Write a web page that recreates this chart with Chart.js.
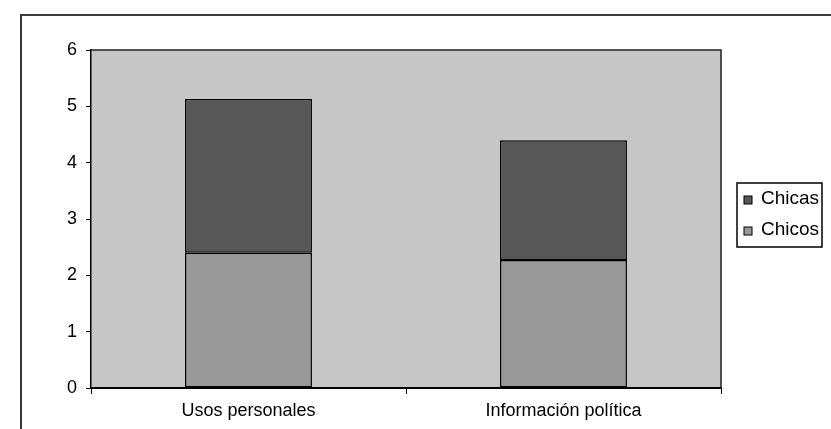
<!DOCTYPE html>
<html>
<head>
<meta charset="utf-8">
<script src="https://cdn.jsdelivr.net/npm/chart.js@4"></script>
<style>
  body { margin: 0; background: #fff; }
  canvas { display: block; }
</style>
</head>
<body>
<canvas id="chart" width="831" height="429"></canvas>
<script>
const categories = ['Usos personales', 'Información política'];
const chicosValues = [2.40, 2.27];
const chicasValues = [2.73, 2.13];
const seriesNames = ['Chicos', 'Chicas'];
const yMin = 0;
const yMax = 6;
const yStep = 1;

const FONT = "'Liberation Sans', Arial, sans-serif";

// white page, the scanned frame and the grey plot area
const backdrop = {
    id: 'backdrop',
    beforeDraw(chart) {
        const ctx = chart.ctx;
        const a = chart.chartArea;
        ctx.save();
        ctx.fillStyle = '#fff';
        ctx.fillRect(0, 0, chart.width, chart.height);
        ctx.strokeStyle = '#3a3a3a';
        ctx.lineWidth = 2;
        ctx.beginPath();
        ctx.moveTo(21, chart.height);
        ctx.lineTo(21, 15);
        ctx.lineTo(chart.width, 15);
        ctx.stroke();
        ctx.fillStyle = '#c6c6c6';
        ctx.fillRect(a.left, a.top, a.right - a.left, a.bottom - a.top);
        ctx.restore();
    },
    afterDraw(chart) {
        const ctx = chart.ctx;
        const a = chart.chartArea;
        ctx.save();
        ctx.strokeStyle = '#222';
        ctx.lineWidth = 1.5;
        ctx.beginPath();
        ctx.moveTo(a.left, a.top);
        ctx.lineTo(a.right, a.top);
        ctx.lineTo(a.right, a.bottom);
        ctx.stroke();
        ctx.restore();
    }
};

// boxed legend on the right, top item is the upper stack
const boxLegend = {
    id: 'boxLegend',
    afterDraw(chart) {
        const ctx = chart.ctx;
        const items = chart.data.datasets.slice().reverse();
        const x = 737, y = 183, w = 85, h = 64;
        ctx.save();
        ctx.fillStyle = '#fff';
        ctx.fillRect(x, y, w, h);
        ctx.strokeStyle = '#000';
        ctx.lineWidth = 1.5;
        ctx.strokeRect(x, y, w, h);
        ctx.font = '19px ' + FONT;
        ctx.textBaseline = 'middle';
        items.forEach((ds, i) => {
            const cy = y + 16 + i * 31;
            ctx.fillStyle = ds.backgroundColor;
            ctx.fillRect(744, cy - 3, 8, 8);
            ctx.lineWidth = 1;
            ctx.strokeRect(744, cy - 3, 8, 8);
            ctx.fillStyle = '#000';
            ctx.fillText(ds.label, 761, cy);
        });
        ctx.restore();
    }
};

const ctx = document.getElementById('chart').getContext('2d');

new Chart(ctx, {
    type: 'bar',
    data: {
        labels: categories,
        datasets: [
            {
                label: seriesNames[0],
                data: chicosValues,
                backgroundColor: '#999999',
                borderColor: '#000',
                borderWidth: 1.5,
                borderSkipped: false
            },
            {
                label: seriesNames[1],
                data: chicasValues,
                backgroundColor: '#575757',
                borderColor: '#000',
                borderWidth: 1.5,
                borderSkipped: false
            }
        ]
    },
    options: {
        responsive: false,
        animation: false,
        devicePixelRatio: 1,
        barPercentage: 0.403,
        categoryPercentage: 1,
        layout: {
            padding: { top: 50, right: 110, bottom: 0, left: 0 }
        },
        plugins: {
            legend: { display: false },
            tooltip: { enabled: false }
        },
        scales: {
            x: {
                stacked: true,
                grid: {
                    offset: true,
                    drawOnChartArea: false,
                    tickLength: 6,
                    tickColor: '#000'
                },
                border: { color: '#000', width: 2 },
                ticks: {
                    color: '#000',
                    font: { family: FONT, size: 18 },
                    padding: 6
                },
                afterFit: s => { s.height = 41; }
            },
            y: {
                stacked: true,
                min: yMin,
                max: yMax,
                grid: {
                    drawOnChartArea: false,
                    tickLength: 5,
                    tickColor: '#000'
                },
                border: { color: '#000', width: 1.5 },
                ticks: {
                    stepSize: yStep,
                    color: '#000',
                    font: { family: FONT, size: 18 },
                    padding: 9
                },
                afterFit: s => { s.width = 91; }
            }
        }
    },
    plugins: [backdrop, boxLegend]
});
</script>
</body>
</html>
